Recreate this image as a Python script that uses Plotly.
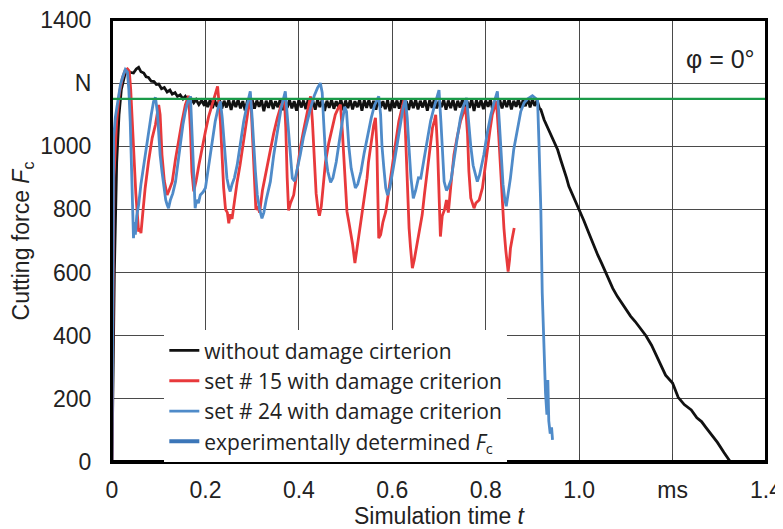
import plotly.graph_objects as go

# ---------------- data ----------------
x_tickvals = [0, 0.2, 0.4, 0.6, 0.8, 1.0, 1.2, 1.4]
x_ticktext = ["0", "0.2", "0.4", "0.6", "0.8", "1.0", "ms", "1.4"]
y_tickvals = [0, 200, 400, 600, 800, 1000, 1200, 1400]
y_ticktext = ["0", "200", "400", "600", "800", "1000", "N", "1400"]

experimental_level = 1150
experimental_t = [0.0, 1.4]

black_t = [0.0, 0.005, 0.01, 0.015, 0.02, 0.028, 0.037, 0.046, 0.052, 0.057, 0.062, 0.068, 0.073,
           0.078, 0.084, 0.09, 0.095, 0.1, 0.106, 0.112, 0.118, 0.124, 0.129, 0.135, 0.14, 0.146,
           0.152, 0.157, 0.163, 0.169, 0.175, 0.18, 0.186, 0.192, 0.198,
           0.200, 0.205, 0.210, 0.215, 0.220, 0.225, 0.230, 0.235, 0.240, 0.245, 0.250, 0.255,
           0.260, 0.265, 0.270, 0.275, 0.280, 0.285, 0.290, 0.295, 0.300, 0.305, 0.310, 0.315,
           0.320, 0.325, 0.330, 0.335, 0.340, 0.345, 0.350, 0.355, 0.360, 0.365, 0.370, 0.375,
           0.380, 0.385, 0.390, 0.395, 0.400, 0.405, 0.410, 0.415, 0.420, 0.425, 0.430, 0.435,
           0.440, 0.445, 0.450, 0.455, 0.460, 0.465, 0.470, 0.475, 0.480, 0.485, 0.490, 0.495,
           0.500, 0.505, 0.510, 0.515, 0.520, 0.525, 0.530, 0.535, 0.540, 0.545, 0.550, 0.555,
           0.560, 0.565, 0.570, 0.575, 0.580, 0.585, 0.590, 0.595, 0.600, 0.605, 0.610, 0.615,
           0.620, 0.625, 0.630, 0.635, 0.640, 0.645, 0.650, 0.655, 0.660, 0.665, 0.670, 0.675,
           0.680, 0.685, 0.690, 0.695, 0.700, 0.705, 0.710, 0.715, 0.720, 0.725, 0.730, 0.735,
           0.740, 0.745, 0.750, 0.755, 0.760, 0.765, 0.770, 0.775, 0.780, 0.785, 0.790, 0.795,
           0.800, 0.805, 0.810, 0.815, 0.820, 0.825, 0.830, 0.835, 0.840, 0.845, 0.850, 0.855,
           0.860, 0.865, 0.870, 0.875, 0.880, 0.885, 0.890, 0.895, 0.900, 0.905, 0.910, 0.915,
           0.918, 0.925, 0.932, 0.939, 0.946, 0.954, 0.961, 0.968, 0.973, 0.978, 0.985, 0.993,
           1.0, 1.01, 1.02, 1.03, 1.04, 1.048, 1.057, 1.065, 1.072, 1.082, 1.09, 1.1, 1.11, 1.12,
           1.13, 1.143, 1.155, 1.165, 1.175, 1.185, 1.2, 1.212, 1.225, 1.24, 1.252, 1.262, 1.272,
           1.285, 1.296, 1.31, 1.324]
black_f = [0, 600, 950, 1100, 1180, 1230, 1235, 1232, 1245, 1250, 1236, 1232, 1220,
           1218, 1206, 1205, 1196, 1197, 1182, 1186, 1172, 1178, 1165, 1170, 1158, 1163,
           1150, 1158, 1144, 1152, 1138, 1148, 1132, 1145, 1128,
           1146, 1124, 1147, 1121, 1145, 1125, 1148, 1119, 1144, 1123, 1147, 1115,
           1145, 1124, 1148, 1120, 1143, 1114, 1146, 1122, 1148, 1119, 1145, 1125,
           1147, 1111, 1144, 1122, 1148, 1118, 1143, 1124, 1148, 1114, 1146, 1122,
           1147, 1120, 1143, 1113, 1148, 1123, 1145, 1118, 1149, 1121, 1144, 1116,
           1147, 1124, 1148, 1112, 1144, 1122, 1147, 1119, 1143, 1123, 1149, 1114,
           1145, 1121, 1147, 1117, 1143, 1124, 1148, 1113, 1146, 1122, 1147, 1120,
           1144, 1116, 1149, 1123, 1143, 1118, 1146, 1111, 1147, 1122, 1145, 1119,
           1149, 1124, 1143, 1115, 1147, 1121, 1148, 1117, 1144, 1123, 1147, 1113,
           1146, 1122, 1149, 1120, 1143, 1124, 1147, 1116, 1145, 1121, 1148, 1114,
           1144, 1123, 1147, 1119, 1143, 1122, 1149, 1112, 1146, 1123, 1147, 1118,
           1145, 1125, 1148, 1115, 1143, 1122, 1147, 1120, 1146, 1124, 1150, 1117,
           1144, 1125, 1149, 1121, 1147, 1127, 1152, 1123, 1149, 1128, 1146, 1120,
           1116, 1084, 1060, 1042, 1015, 989, 955, 925, 900, 873, 850, 825,
           799, 765, 728, 690, 655, 630, 600, 575, 550, 524, 505, 485, 462, 445,
           425, 400, 370, 340, 305, 275, 250, 205, 182, 165, 140, 128, 108,
           85, 62, 30, 0]

red_t = [0.0, 0.004, 0.01, 0.016, 0.022, 0.028, 0.033, 0.037, 0.04, 0.043, 0.047, 0.051, 0.054,
         0.057, 0.06, 0.062, 0.066, 0.071, 0.078, 0.086, 0.093, 0.1, 0.103, 0.107, 0.112, 0.118,
         0.122, 0.129, 0.136, 0.143, 0.15, 0.157, 0.164, 0.168, 0.171, 0.175, 0.18, 0.186, 0.193,
         0.2, 0.207, 0.214, 0.22, 0.226, 0.229, 0.232, 0.236, 0.239, 0.243, 0.247, 0.25, 0.253,
         0.257, 0.262, 0.268, 0.274, 0.279, 0.285, 0.289, 0.294, 0.297, 0.3, 0.303, 0.306, 0.308,
         0.312, 0.316, 0.322, 0.33, 0.338, 0.346, 0.354, 0.362, 0.369, 0.372, 0.375, 0.378, 0.382,
         0.389, 0.396, 0.403, 0.41, 0.418, 0.425, 0.429, 0.433, 0.437, 0.441, 0.444, 0.448, 0.452,
         0.457, 0.464, 0.471, 0.478, 0.484, 0.489, 0.493, 0.496, 0.5, 0.503, 0.507, 0.511, 0.515,
         0.52, 0.523, 0.527, 0.531, 0.536, 0.541, 0.546, 0.549, 0.553, 0.556, 0.56, 0.564, 0.567,
         0.569, 0.571, 0.575, 0.58, 0.586, 0.593, 0.6, 0.607, 0.614, 0.62, 0.625, 0.628, 0.632,
         0.636, 0.639, 0.643, 0.647, 0.654, 0.659, 0.664, 0.669, 0.675, 0.681, 0.686, 0.69, 0.693,
         0.697, 0.7, 0.703, 0.707, 0.712, 0.716, 0.72, 0.725, 0.732, 0.739, 0.746, 0.752, 0.757,
         0.761, 0.764, 0.768, 0.772, 0.775, 0.779, 0.786, 0.793, 0.798, 0.803, 0.809, 0.814, 0.819,
         0.823, 0.828, 0.832, 0.836, 0.839, 0.843, 0.848, 0.851, 0.853, 0.857, 0.861]
red_f = [0, 900, 1080, 1170, 1215, 1240, 1245, 1238, 1180, 1080, 960, 850, 790,
         730, 740, 725, 790, 868, 950, 1026, 1068, 1131, 1100, 973, 890, 846,
         860, 888, 960, 1026, 1080, 1131, 1160, 1050, 920, 857, 890, 941, 1000,
         1047, 1095, 1131, 1165, 1190, 1140, 1079, 960, 868, 800, 790, 756, 785,
         770, 830, 888, 940, 994, 1050, 1100, 1140, 1153, 1060, 973, 850, 799,
         810, 790, 860, 920, 985, 1040, 1090, 1130, 1150, 1060, 900, 797, 820,
         846, 920, 994, 1050, 1110, 1158, 1080, 950, 850, 800, 780, 810, 870,
         950, 1010, 1058, 1100, 1120, 1132, 1050, 973, 880, 793, 760, 730, 690,
         630, 660, 700, 745, 793, 850, 899, 950, 994, 1030, 1065, 1090, 1000,
         850, 709, 720, 760, 793, 870, 941, 1010, 1079, 1120, 1147, 1050, 868,
         740, 680, 614, 640, 698, 740, 783, 850, 920, 990, 1058, 1080, 1100,
         990, 868, 714, 780, 800, 830, 790, 870, 973, 1030, 1079, 1105, 1125,
         1040, 920, 836, 815, 804, 820, 830, 868, 930, 994, 1050, 1100, 1125,
         1142, 1030, 920, 820, 741, 670, 603, 640, 677, 710, 741]

blue_t = [0.0, 0.002, 0.0035, 0.007, 0.011, 0.018, 0.024, 0.0285, 0.033, 0.036, 0.039, 0.041, 0.043,
          0.046, 0.048, 0.05, 0.053, 0.057, 0.062, 0.068, 0.073, 0.078, 0.084, 0.089, 0.093, 0.097,
          0.1, 0.103, 0.107, 0.111, 0.115, 0.118, 0.121, 0.125, 0.13, 0.136, 0.141, 0.146, 0.152,
          0.157, 0.162, 0.168, 0.171, 0.173, 0.176, 0.178, 0.181, 0.185, 0.189, 0.195, 0.2, 0.206,
          0.211, 0.216, 0.221, 0.227, 0.232, 0.236, 0.239, 0.243, 0.246, 0.25, 0.253, 0.257, 0.262,
          0.268, 0.275, 0.282, 0.289, 0.296, 0.3, 0.303, 0.307, 0.311, 0.316, 0.321, 0.325, 0.33,
          0.339, 0.346, 0.354, 0.362, 0.371, 0.375, 0.378, 0.382, 0.386, 0.391, 0.397, 0.403, 0.41,
          0.418, 0.425, 0.433, 0.44, 0.446, 0.45, 0.453, 0.457, 0.462, 0.468, 0.473, 0.48, 0.487,
          0.493, 0.498, 0.502, 0.507, 0.512, 0.517, 0.521, 0.526, 0.533, 0.54, 0.548, 0.555, 0.562,
          0.571, 0.575, 0.578, 0.582, 0.586, 0.59, 0.595, 0.602, 0.61, 0.617, 0.623, 0.628, 0.632,
          0.636, 0.64, 0.645, 0.65, 0.656, 0.661, 0.668, 0.675, 0.682, 0.689, 0.695, 0.7, 0.704,
          0.708, 0.711, 0.716, 0.72, 0.726, 0.732, 0.739, 0.746, 0.753, 0.759, 0.763, 0.768, 0.773,
          0.778, 0.782, 0.787, 0.796, 0.803, 0.811, 0.818, 0.825, 0.829, 0.833, 0.837, 0.841, 0.844,
          0.848, 0.853, 0.86, 0.868, 0.875, 0.882, 0.89, 0.9, 0.906, 0.911, 0.914, 0.918, 0.921,
          0.925, 0.928, 0.931, 0.933, 0.935, 0.938, 0.941, 0.943]
blue_f = [0, 600, 1026, 1090, 1131, 1195, 1225, 1243, 1235, 1180, 1079, 950, 815,
          709, 760, 720, 780, 815, 880, 941, 1000, 1047, 1100, 1142, 1155, 1110,
          1040, 973, 920, 868, 830, 815, 804, 830, 850, 888, 950, 1015, 1070,
          1110, 1140, 1158, 1060, 973, 860, 804, 830, 820, 846, 855, 868, 930,
          973, 1030, 1079, 1120, 1142, 1090, 1026, 950, 899, 870, 857, 880, 900,
          941, 1010, 1079, 1130, 1174, 1090, 1000, 920, 846, 800, 772, 790, 830,
          888, 970, 1047, 1120, 1174, 1100, 1026, 950, 899, 890, 930, 973, 1030,
          1080, 1121, 1160, 1185, 1200, 1170, 1080, 973, 920, 886, 900, 950, 1020,
          1080, 1125, 1110, 1000, 930, 890, 868, 880, 920, 980, 1040, 1090, 1130,
          1158, 1100, 1000, 930, 868, 845, 870, 930, 1000, 1070, 1120, 1150, 1090,
          990, 900, 835, 860, 900, 899, 960, 1026, 1080, 1121, 1155, 1178, 1080,
          960, 888, 860, 870, 895, 960, 1026, 1090, 1130, 1153, 1080, 1000, 940,
          905, 888, 910, 973, 1040, 1100, 1140, 1174, 1080, 970, 880, 830, 810,
          850, 900, 990, 1060, 1110, 1137, 1150, 1160, 1152, 1147, 1010, 799, 535,
          323, 218, 150, 260, 130, 90, 110, 70]

legend_names = ["without damage cirterion",
                "set # 15 with damage criterion",
                "set # 24 with damage criterion",
                "experimentally determined <i>F</i><sub>c</sub>"]

# ---------------- figure ----------------
C_BLACK = "#111111"
C_RED = "#e8393b"
C_BLUE = "#4f8bc9"
C_EXP = "#3b76b8"
C_GREEN = "#1a9a48"
FONT_AX = "Liberation Sans, Arial, sans-serif"

fig = go.Figure()
fig.add_trace(go.Scatter(x=black_t, y=black_f, mode="lines", name=legend_names[0],
                         line=dict(color=C_BLACK, width=2.8)))
fig.add_trace(go.Scatter(x=red_t, y=red_f, mode="lines", name=legend_names[1],
                         line=dict(color=C_RED, width=2.8)))
fig.add_trace(go.Scatter(x=blue_t, y=blue_f, mode="lines", name=legend_names[2],
                         line=dict(color=C_BLUE, width=2.8)))
fig.add_trace(go.Scatter(x=[None], y=[None], mode="lines", name=legend_names[3],
                         line=dict(color=C_EXP, width=4)))
fig.add_trace(go.Scatter(x=experimental_t, y=[experimental_level] * len(experimental_t),
                         mode="lines", showlegend=False, hoverinfo="skip",
                         line=dict(color=C_GREEN, width=2.2)))

tick_font = dict(family=FONT_AX, size=23, color="#222222")
grid_color = "#4a4a4a"

fig.update_xaxes(range=[0, 1.4], tickvals=x_tickvals, ticktext=x_ticktext,
                 showgrid=True, gridcolor=grid_color, gridwidth=1.2,
                 zeroline=False, showline=True, linecolor="black", linewidth=2, mirror=True,
                 ticks="inside", ticklen=8, tickcolor="#444444", tickwidth=1,
                 tickfont=tick_font, ticklabelstandoff=6, automargin=False,
                 ticklabeloverflow="allow",
                 title=dict(text="Simulation time <i>t</i>",
                            font=dict(family=FONT_AX, size=23, color="#222222"),
                            standoff=18))
fig.update_yaxes(range=[0, 1400], tickvals=y_tickvals, ticktext=y_ticktext,
                 showgrid=True, gridcolor=grid_color, gridwidth=1.2,
                 zeroline=False, showline=True, linecolor="black", linewidth=2, mirror=True,
                 ticks="", tickfont=tick_font, ticklabelstandoff=14, automargin=False,
                 ticklabeloverflow="allow",
                 title=dict(text="Cutting force <i>F</i><sub>c</sub>",
                            font=dict(family=FONT_AX, size=23, color="#222222"),
                            standoff=6))

# plot frame (thin on top/left/right, heavy along the time axis)
fig.add_shape(type="rect", xref="paper", yref="paper", x0=0, x1=1, y0=0, y1=1,
              line=dict(color="black", width=2), fillcolor="rgba(0,0,0,0)", layer="above")
fig.add_shape(type="line", xref="paper", yref="paper", x0=0, x1=1, y0=0, y1=0,
              line=dict(color="black", width=4))

fig.add_annotation(text="φ = 0°", xref="paper", yref="paper", x=0.986, y=0.912,
                   xanchor="right", yanchor="middle", showarrow=False,
                   font=dict(family=FONT_AX, size=25, color="#222222"))

# the page places the figure 8 px in from the top-left corner, so the figure is
# sized to fit the remaining window
fig.update_layout(
    width=775, height=521,
    margin=dict(l=104, r=17, t=12, b=67),
    paper_bgcolor="white", plot_bgcolor="white",
    showlegend=True,
    legend=dict(x=0.08, y=0.298, xanchor="left", yanchor="top",
                bgcolor="white", borderwidth=0, tracegroupgap=0,
                font=dict(family="Open Sans, sans-serif", size=21, color="#222222")),
)

fig.write_html("out.html")
